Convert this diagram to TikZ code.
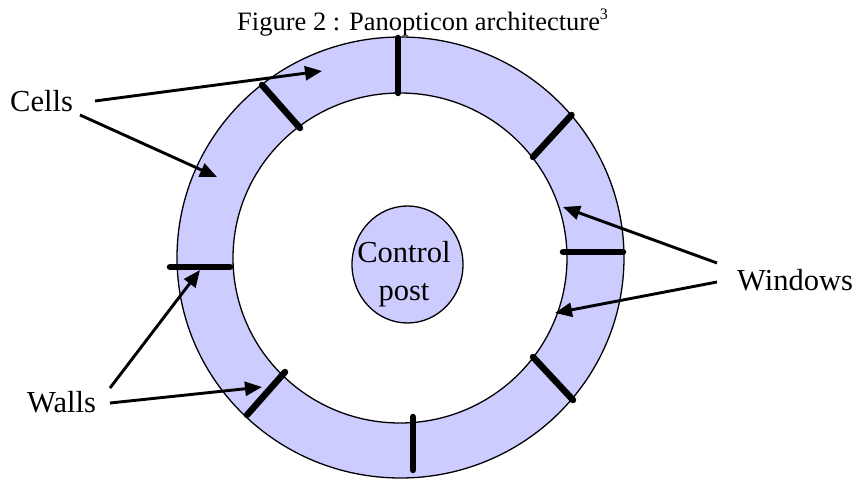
\documentclass[tikz,border=0pt]{standalone}
\usepackage{fontspec}
\setmainfont{Liberation Serif}
\usetikzlibrary{arrows.meta,shapes.geometric}
\definecolor{cellblue}{HTML}{CCCCFF}
\begin{document}
\begin{tikzpicture}[x=1pt,y=-1pt,
  lbl/.style={font=\fontsize{30.5}{36}\selectfont, inner sep=0pt},
  ttl/.style={font=\fontsize{26.5}{30}\selectfont, inner sep=0pt},
  wall/.style={line width=6.5pt, line cap=round},
  ptr/.style={line width=2.9pt, -{Triangle[length=17pt,width=14pt]}},
  rim/.style={line width=1.3pt}]
\useasboundingbox (0,0) rectangle (864,481);
\fill[white] (0,0) rectangle (864,481);
% title
\node[ttl, anchor=base west] (title) at (237,31) {Figure 2 : Panopticon architecture\raisebox{0.42em}{\fontsize{16}{18}\selectfont 3}};
% ring
\draw[rim, fill=cellblue] (400.5,257.5) ellipse [x radius=223.5, y radius=220.5];
\draw[rim, fill=white] (400,258) ellipse [x radius=167, y radius=165];
% control post
\node[rim, draw, fill=cellblue, ellipse, minimum width=111pt, minimum height=117pt, inner sep=0pt] (ctrl) at (407.5,264.5) {};
\node[lbl, anchor=base] (ctrl1) at (404,262) {Control};
\node[lbl, anchor=base] (ctrl2) at (404,300) {post};
% walls
\draw[wall] (398,38) -- (398,93);
\draw[wall] (262,85) -- (300,128);
\draw[wall] (571.5,115) -- (533,157);
\draw[wall] (563,252) -- (623,252);
\draw[wall] (170,267) -- (230,267);
\draw[wall] (285,372) -- (247,415);
\draw[wall] (413,417) -- (413,470);
\draw[wall] (533,357) -- (573,400);
% labels
\node[lbl, anchor=base west] (cells) at (10,112) {Cells};
\node[lbl, anchor=base west] (walls) at (27,412) {Walls};
\node[lbl, anchor=base west] (windows) at (737,290) {Windows};
% arrow coordinates
\coordinate (c1s) at (95,101);
\coordinate (c1t) at (322,71);
\coordinate (c2s) at (80,115);
\coordinate (c2t) at (217,177);
\coordinate (w1s) at (110,388);
\coordinate (w1t) at (200,270);
\coordinate (w2s) at (110,403);
\coordinate (w2t) at (262,387);
\coordinate (n1s) at (717,263);
\coordinate (n1t) at (563,207);
\coordinate (n2s) at (717,282);
\coordinate (n2t) at (555,313);
\draw[ptr] (c1s) -- (c1t);
\draw[ptr] (c2s) -- (c2t);
\draw[ptr] (w1s) -- (w1t);
\draw[ptr] (w2s) -- (w2t);
\draw[ptr] (n1s) -- (n1t);
\draw[ptr] (n2s) -- (n2t);
\end{tikzpicture}
\end{document}
